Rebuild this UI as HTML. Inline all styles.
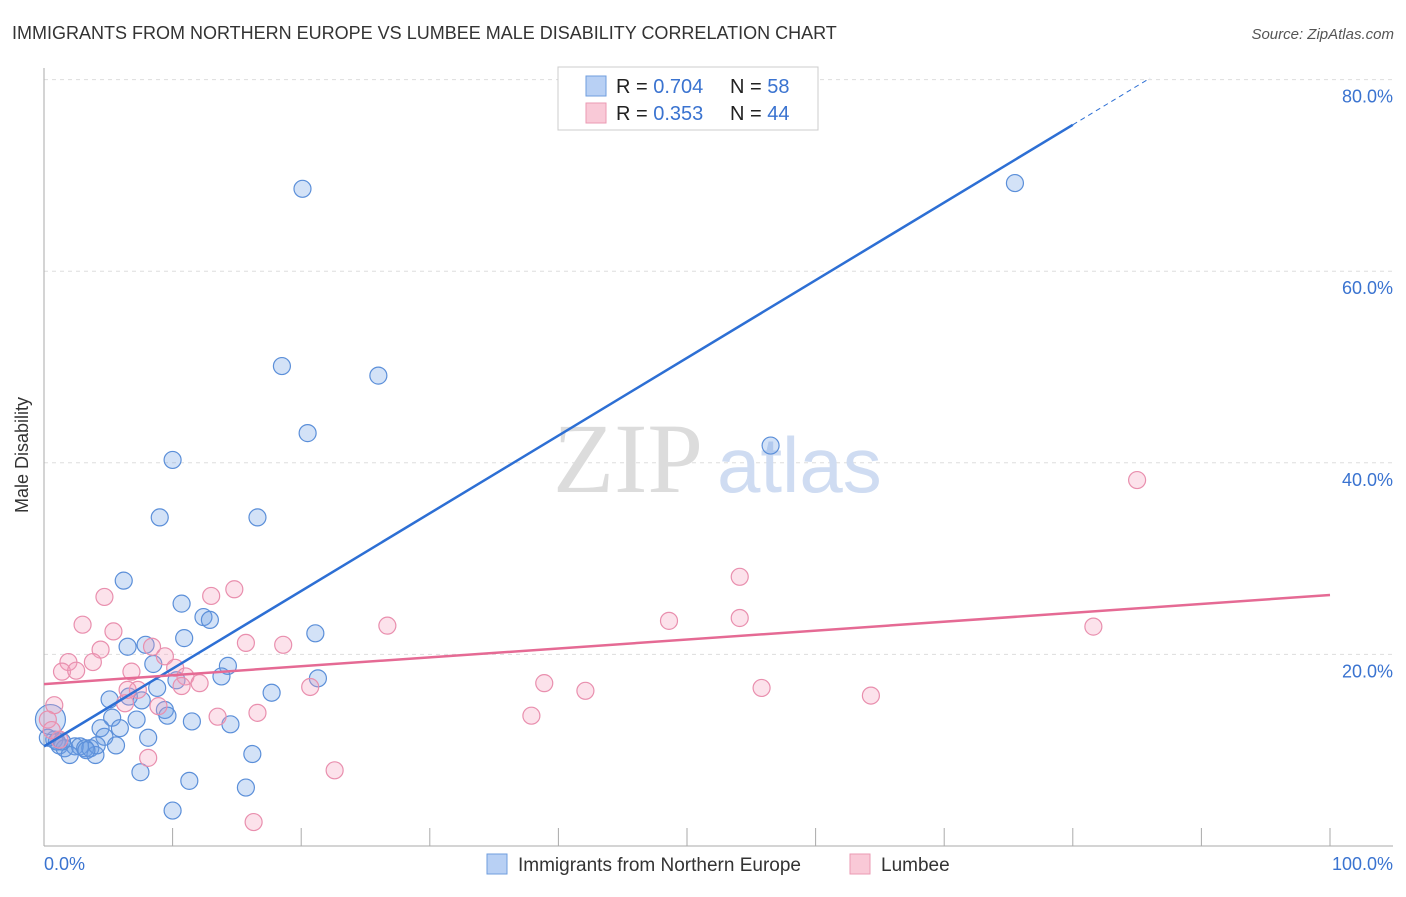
<!DOCTYPE html>
<html><head><meta charset="utf-8"><style>
body{margin:0;background:#fff;font-family:"Liberation Sans",sans-serif;}
</style></head><body>
<svg width="1406" height="892" xmlns="http://www.w3.org/2000/svg" id="chart" font-family="Liberation Sans, sans-serif">
<text x="12" y="39" font-size="18" fill="#333">IMMIGRANTS FROM NORTHERN EUROPE VS LUMBEE MALE DISABILITY CORRELATION CHART</text>
<text x="1394" y="39" font-size="15" fill="#555" font-style="italic" text-anchor="end">Source: ZipAtlas.com</text>
<text x="28" y="455" font-size="18" fill="#333" text-anchor="middle" transform="rotate(-90 28 455)">Male Disability</text>
<g id="grid"></g>
<text x="553" y="492" font-size="100" fill="#dcdcdc" style="font-family:'Liberation Serif',serif">ZIP</text>
<text x="717" y="492" font-size="78" fill="#cfdcf2">atlas</text>
<g id="marks"></g>
<g id="lines"></g>
<g>
<rect x="558" y="67" width="260" height="63" fill="#fff" stroke="#ccc"/>
<rect x="586" y="76" width="20" height="20" fill="#b8d0f4" stroke="#6f9ede"/>
<rect x="586" y="103" width="20" height="20" fill="#f9c9d7" stroke="#eb9ab3"/>
<text x="616" y="93" font-size="20" fill="#222">R = <tspan fill="#3a73d0">0.704</tspan><tspan x="730">N = </tspan><tspan fill="#3a73d0">58</tspan></text>
<text x="616" y="120" font-size="20" fill="#222">R = <tspan fill="#3a73d0"> 0.353</tspan><tspan x="730">N = </tspan><tspan fill="#3a73d0">44</tspan></text>
</g>
<g>
<rect x="487" y="854" width="20" height="20" fill="#b8d0f4" stroke="#6f9ede"/>
<text x="518" y="871" font-size="19" fill="#333">Immigrants from Northern Europe</text>
<rect x="850" y="854" width="20" height="20" fill="#f9c9d7" stroke="#eb9ab3"/>
<text x="881" y="871" font-size="19" fill="#333">Lumbee</text>
</g>
<text x="44" y="870" font-size="18" fill="#3a73d0">0.0%</text>
<text x="1393" y="870" font-size="18" fill="#3a73d0" text-anchor="end">100.0%</text>
</svg>
<script>
const yTicks=[20,40,60,80];
const yTickLabels=["20.0%","40.0%","60.0%","80.0%"];
const blueX=[20.1,75.5,18.5,26.0,20.5,56.5,10.0,9.0,16.6,6.2,10.7,12.4,12.9,21.1,10.9,6.5,7.9,8.5,14.3,13.8,21.3,10.3,8.8,17.7,5.1,6.6,7.6,9.4,9.6,5.3,11.5,7.2,14.5,4.4,5.9,4.7,8.1,5.6,0.8,1.2,1.6,2.4,2.8,3.2,3.6,4.0,2.0,1.0,0.3,0.5,16.2,7.5,11.3,15.7,10.0,4.1,1.4,3.3];
const blueY=[68.6,69.2,50.1,49.1,43.1,41.8,40.3,34.3,34.3,27.7,25.3,23.9,23.6,22.2,21.7,20.8,21.0,19.0,18.8,17.7,17.5,17.3,16.5,16.0,15.3,15.6,15.2,14.2,13.6,13.4,13.0,13.2,12.7,12.3,12.3,11.4,11.3,10.5,11.1,10.5,10.2,10.4,10.4,10.2,10.2,9.5,9.5,10.9,11.3,13.2,9.6,7.7,6.8,6.1,3.7,10.5,10.9,10.0];
const pinkX=[85.0,54.1,14.8,13.0,4.7,3.0,26.7,48.6,54.1,81.6,5.4,15.7,18.6,4.4,8.4,1.9,3.8,1.4,2.5,6.8,9.4,10.2,11.0,12.1,10.7,7.3,20.7,38.9,42.1,55.8,64.3,0.8,6.3,8.9,13.5,16.6,37.9,8.1,22.6,16.3,0.3,1.2,6.5,0.6];
const pinkY=[38.2,28.1,26.8,26.1,26.0,23.1,23.0,23.5,23.8,22.9,22.4,21.2,21.0,20.5,20.8,19.2,19.2,18.2,18.3,18.2,19.8,18.6,17.7,17.0,16.7,16.3,16.6,17.0,16.2,16.5,15.7,14.7,14.9,14.6,13.5,13.9,13.6,9.2,7.9,2.5,13.2,11.1,16.3,12.1];
const blueLine=[10.4,0.811];
const pinkLine=[16.9,0.093];
const NS="http://www.w3.org/2000/svg";
const sx=v=>44+v*12.86, sy=v=>846-v*9.58;
function mk(t,a,p){const e=document.createElementNS(NS,t);for(const k in a)e.setAttribute(k,a[k]);p.appendChild(e);return e;}
const grid=document.getElementById('grid');
yTicks.forEach((t,i)=>{
 const l=mk('line',{x1:44,x2:1393,y1:sy(t),y2:sy(t),stroke:'#ddd','stroke-dasharray':'4,4'},grid);
 
 
 const tx=mk('text',{x:1393,y:sy(t)+23,'font-size':18,fill:'#3a73d0','text-anchor':'end'},grid);
 tx.textContent=yTickLabels[i];
 
 
});
const ax=mk('line',{x1:44,x2:1393,y1:846,y2:846,stroke:'#aaa'},grid);


const ay=mk('line',{x1:44,x2:44,y1:68,y2:846,stroke:'#aaa'},grid);


for(let k=1;k<=10;k++){
 const t=mk('line',{x1:sx(k*10),x2:sx(k*10),y1:828,y2:846,stroke:'#aaa'},grid);
 
 
}
const marks=document.getElementById('marks');
blueX.forEach((x,i)=>{
 const c=mk('circle',{cx:sx(x),cy:sy(blueY[i]),r:i==49?15:8.5,fill:'rgba(110,160,230,0.3)',stroke:'#5b8fd9','stroke-width':1.2},marks);
 
 
});
pinkX.forEach((x,i)=>{
 const c=mk('circle',{cx:sx(x),cy:sy(pinkY[i]),r:8.5,fill:'rgba(245,160,190,0.3)',stroke:'#e98fae','stroke-width':1.2},marks);
 
 
});
const lines=document.getElementById('lines');
const b1=mk('line',{x1:sx(0),y1:sy(blueLine[0]),x2:sx(80),y2:sy(blueLine[0]+80*blueLine[1]),stroke:'#2d6fd4','stroke-width':2.5},lines);


const b2=mk('line',{x1:sx(80),y1:sy(blueLine[0]+80*blueLine[1]),x2:sx(86),y2:sy(blueLine[0]+86*blueLine[1]),stroke:'#2d6fd4','stroke-width':1,'stroke-dasharray':'5,4'},lines);


const p1=mk('line',{x1:sx(0),y1:sy(pinkLine[0]),x2:sx(100),y2:sy(pinkLine[0]+100*pinkLine[1]),stroke:'#e56a94','stroke-width':2.5},lines);


</script>
</body></html>
